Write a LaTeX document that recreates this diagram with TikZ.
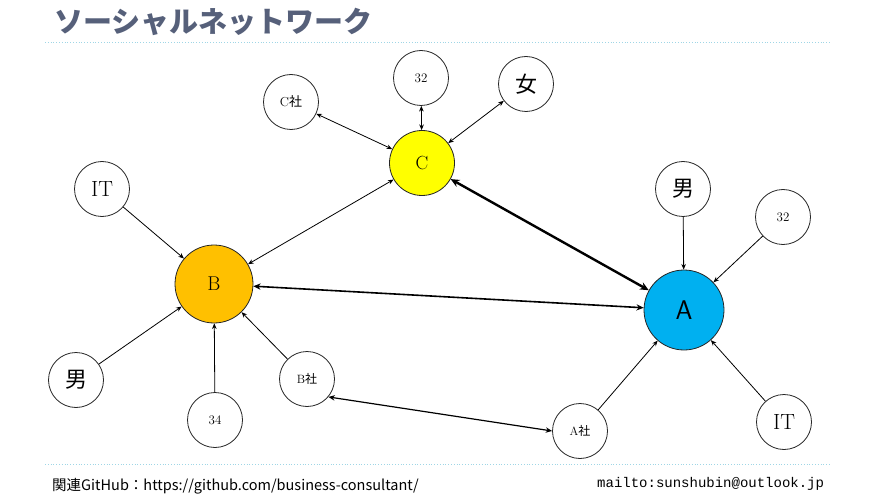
\documentclass[tikz,border=0pt]{standalone}
\usepackage{fontspec}
\newfontfamily\jp{Noto Sans CJK JP}
\newfontfamily\mono{Liberation Mono}
\usetikzlibrary{arrows.meta}
\definecolor{titlegray}{HTML}{56607A}
\definecolor{rulecyan}{HTML}{9FD6E6}
\definecolor{nodeyellow}{HTML}{FFFF00}
\definecolor{nodeorange}{HTML}{FFC000}
\definecolor{nodeblue}{HTML}{00B0F0}
\tikzset{
  rule/.style={rulecyan, dotted, line width=.8pt},
  >={Stealth[length=4pt 2, width=3pt 2]},
}
\begin{document}
\begin{tikzpicture}[x=1pt,y=-1pt]
  \useasboundingbox (0,0) rectangle (875,497);

  % title and rules
  \node (title) [anchor=west, text=titlegray, inner sep=0pt,
    font=\jp\bfseries\fontsize{29}{31}\selectfont] at (54,22) {ソーシャルネットワーク};
  \coordinate (r1) at (45,42);  \coordinate (r2) at (830,42);
  \coordinate (r3) at (45,464); \coordinate (r4) at (830,464);
  \draw[rule] (r1) -- (r2);
  \draw[rule] (r3) -- (r4);

  % persons
  \begin{scope}[every node/.style={circle, draw=black!85, line width=.8pt, inner sep=0pt}]
    \node (C) [fill=nodeyellow, minimum size=65pt, font=\fontsize{19}{20}\selectfont] at (422,163) {C};
    \node (B) [fill=nodeorange, minimum size=78pt, font=\fontsize{20}{22}\selectfont] at (214,284) {B};
    \node (A) [fill=nodeblue, minimum size=80pt, font=\sffamily\fontsize{27}{28}\selectfont] at (684,310) {A};
  \end{scope}

  % attributes
  \begin{scope}[every node/.style={circle, draw=black!85, fill=white, line width=.8pt, inner sep=0pt, minimum size=55pt}]
    \node (cco) [font=\fontsize{13}{14}\selectfont] at (291,102) {C{\jp 社}};
    \node (cage) [font=\fontsize{13}{14}\selectfont] at (421,78) {32};
    \node (csex) [font=\jp\fontsize{22}{24}\selectfont] at (526,84) {女};
    \node (bit) [font=\fontsize{22}{24}\selectfont] at (102,189) {IT};
    \node (bsex) [font=\jp\fontsize{22}{24}\selectfont] at (76,380) {男};
    \node (bage) [font=\fontsize{13}{14}\selectfont] at (215,420) {34};
    \node (bco) [font=\fontsize{12}{14}\selectfont] at (307,379) {B{\jp 社}};
    \node (aco) [font=\fontsize{12}{14}\selectfont] at (580,431) {A{\jp 社}};
    \node (asex) [font=\jp\fontsize{22}{24}\selectfont] at (683,189) {男};
    \node (aage) [font=\fontsize{13}{14}\selectfont] at (783,217) {32};
    \node (ait) [font=\fontsize{22}{24}\selectfont] at (784,422) {IT};
  \end{scope}

  % links
  \begin{scope}[every edge/.style={draw, line width=.8pt}]
    \path (C) edge[<->] (cco);
    \path (C) edge[<->] (cage);
    \path (C) edge[<->] (csex);
    \path (C) edge[<->] (B);
    \path (C) edge[<->, line width=2.4pt] (A);
    \path (B) edge[<->, line width=1.6pt] (A);
    \path (bit) edge[->] (B);
    \path (bsex) edge[->] (B);
    \path (bage) edge[->] (B);
    \path (bco) edge[->] (B);
    \path (bco.-40) edge[<->, line width=1.2pt] (aco.west);
    \path (aco) edge[->] (A);
    \path (asex) edge[->] (A);
    \path (aage) edge[->] (A);
    \path (ait) edge[->] (A);
  \end{scope}

  % footer
  \node (github) [anchor=west, inner sep=0pt, font=\jp\fontsize{14.5}{16}\selectfont] at (52,486)
    {関連GitHub：https://github.com/business-consultant/};
  \node (mail) [anchor=west, inner sep=0pt, font=\mono\fontsize{14}{16}\selectfont] at (597,484)
    {mailto:sunshubin@outlook.jp};
\end{tikzpicture}
\end{document}
